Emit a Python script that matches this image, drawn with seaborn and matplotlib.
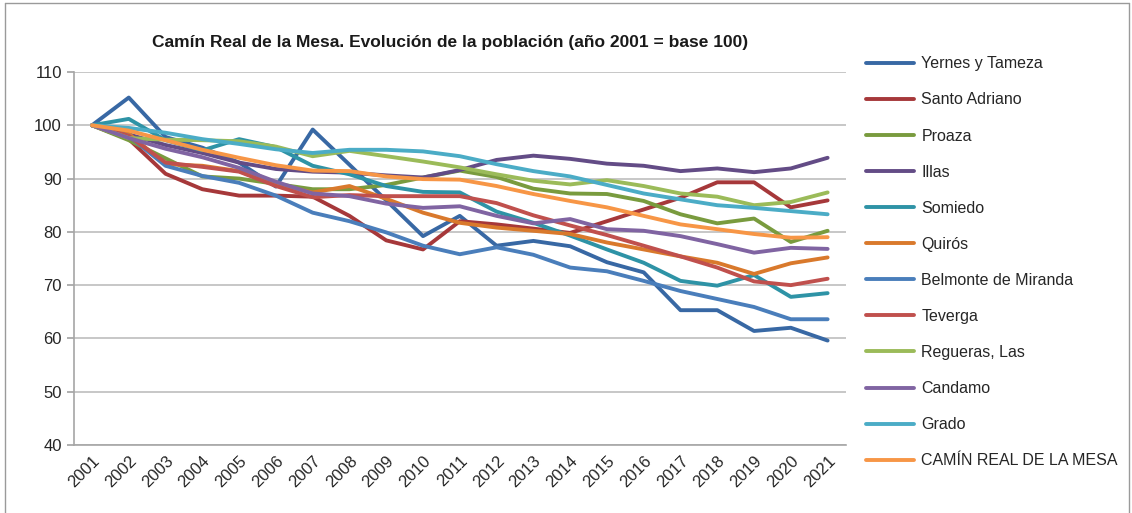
import pandas as pd
import matplotlib
matplotlib.use('Agg')
import matplotlib.pyplot as plt
import seaborn as sns
from matplotlib.lines import Line2D

# Data (2001 = 100)
years = [str(y) for y in range(2001, 2022)]
series = ['Yernes y Tameza', 'Santo Adriano', 'Proaza', 'Illas', 'Somiedo', 'Quirós',
          'Belmonte de Miranda', 'Teverga', 'Regueras, Las', 'Candamo', 'Grado',
          'CAMÍN REAL DE LA MESA']

yernes = [100, 105.2, 97.8, 95.8, 93.0, 88.5, 99.2, 92.6, 85.9, 79.2, 83.0, 77.4, 78.3, 77.3, 74.3, 72.4, 65.3, 65.3, 61.4, 62.0, 59.6]
santo_adriano = [100, 97.4, 90.9, 88.0, 86.8, 86.8, 86.6, 83.0, 78.4, 76.7, 82.0, 81.4, 80.6, 79.8, 82.0, 84.2, 86.4, 89.3, 89.3, 84.6, 85.9]
proaza = [100, 97.2, 93.8, 90.4, 90.0, 89.0, 88.0, 88.0, 88.8, 90.2, 91.5, 90.3, 88.1, 87.2, 87.1, 85.8, 83.3, 81.6, 82.5, 78.1, 80.2]
illas = [100, 98.3, 96.3, 94.8, 93.0, 91.8, 91.3, 91.1, 90.6, 90.2, 91.6, 93.5, 94.3, 93.7, 92.8, 92.4, 91.4, 91.9, 91.2, 91.9, 93.9]
somiedo = [100, 101.2, 97.2, 95.3, 97.4, 95.9, 92.4, 90.8, 88.6, 87.5, 87.4, 83.8, 81.7, 79.3, 76.7, 74.2, 70.8, 69.9, 71.9, 67.8, 68.5]
quiros = [100, 98.4, 92.7, 92.4, 91.4, 88.8, 87.4, 88.6, 86.2, 83.6, 81.7, 80.8, 80.2, 79.6, 78.0, 76.7, 75.4, 74.2, 72.1, 74.1, 75.2]
belmonte = [100, 98.0, 92.4, 90.5, 89.2, 86.8, 83.6, 82.0, 79.9, 77.4, 75.8, 77.1, 75.7, 73.3, 72.6, 70.8, 68.9, 67.4, 65.9, 63.6, 63.6]
teverga = [100, 98.0, 93.0, 92.2, 91.3, 88.6, 86.5, 86.9, 86.7, 86.7, 86.7, 85.4, 83.1, 81.2, 79.4, 77.4, 75.4, 73.3, 70.7, 70.0, 71.2]
regueras = [100, 97.6, 97.3, 97.2, 97.0, 96.0, 94.2, 95.2, 94.2, 93.2, 92.1, 90.8, 89.6, 88.9, 89.7, 88.6, 87.2, 86.6, 85.0, 85.6, 87.4]
candamo = [100, 97.6, 95.6, 94.0, 92.0, 89.4, 87.2, 86.7, 85.3, 84.5, 84.8, 83.0, 81.6, 82.4, 80.5, 80.2, 79.2, 77.7, 76.1, 77.0, 76.8]
grado = [100, 99.5, 98.6, 97.4, 96.5, 95.5, 94.8, 95.4, 95.4, 95.1, 94.2, 92.7, 91.4, 90.4, 88.8, 87.2, 86.1, 85.0, 84.5, 83.9, 83.3]
camin = [100, 99.0, 97.2, 95.4, 93.9, 92.5, 91.5, 91.4, 90.4, 89.9, 89.8, 88.6, 87.1, 85.8, 84.6, 83.0, 81.4, 80.5, 79.6, 78.9, 79.0]

values = [yernes, santo_adriano, proaza, illas, somiedo, quiros,
          belmonte, teverga, regueras, candamo, grado, camin]

colors = ['#3868A4', '#A6383A', '#799B3E', '#634C86', '#2E93A6', '#D9792C',
          '#4A7EBB', '#C0504D', '#9BBB59', '#8064A2', '#4BACC6', '#F79646']

rows = []
for name, vals in zip(series, values):
    for i, v in enumerate(vals):
        rows.append({'idx': i, 'year': years[i], 'serie': name, 'valor': v})
df = pd.DataFrame(rows)

sns.set_theme(style="white")
plt.rcParams['font.family'] = ['Liberation Sans', 'DejaVu Sans']

fig = plt.figure(figsize=(11.32, 5.13), dpi=100)
ax = fig.add_axes([73.6 / 1132, 1 - 445 / 513, (846 - 73.6) / 1132, (445 - 72) / 513])

sns.lineplot(data=df, x='idx', y='valor', hue='serie', hue_order=series,
             palette=colors, linewidth=2.8, legend=False, ax=ax)

ax.set_xlim(-0.5, len(years) - 0.5)
ax.set_ylim(40, 110)
ax.set_yticks(range(40, 111, 10))
ax.set_xticks(range(len(years)))
ax.set_xticklabels(years, rotation=45, ha='right', rotation_mode='anchor', fontsize=12, color='#262626')
ax.tick_params(axis='y', labelsize=12, labelcolor='#262626', length=5, color='#A6A6A6', direction='out', left=True)
ax.tick_params(axis='x', length=0, pad=6)
ax.set_xlabel('')
ax.set_ylabel('')
ax.grid(axis='y', color='#BDBDBD', linewidth=1.2)
for side in ['top', 'right']:
    ax.spines[side].set_visible(False)
for side in ['left', 'bottom']:
    ax.spines[side].set_color('#A6A6A6')
    ax.spines[side].set_linewidth(1.2)

fig.text(450 / 1132, 1 - 42 / 513, 'Camín Real de la Mesa. Evolución de la población (año 2001 = base 100)',
         ha='center', va='center', fontsize=12.5, fontweight='bold', color='#1a1a1a')

handles = [Line2D([0], [0], color=c, linewidth=2.8) for c in colors]
fig.legend(handles, series, loc='upper left', bbox_to_anchor=(860 / 1132, 1 - 50 / 513),
           frameon=False, fontsize=11.5, handlelength=3.0, labelspacing=1.32,
           handletextpad=0.45, borderaxespad=0, labelcolor='#262626')

# chart border
fig.add_artist(Line2D([5 / 1132, 5 / 1132], [0, 1 - 3 / 513], color='#9A9A9A', linewidth=1, transform=fig.transFigure))
fig.add_artist(Line2D([5 / 1132, 1129 / 1132], [1 - 3 / 513, 1 - 3 / 513], color='#9A9A9A', linewidth=1, transform=fig.transFigure))
fig.add_artist(Line2D([1129 / 1132, 1129 / 1132], [0, 1 - 3 / 513], color='#9A9A9A', linewidth=1, transform=fig.transFigure))

fig.savefig('out.png', dpi=100)
